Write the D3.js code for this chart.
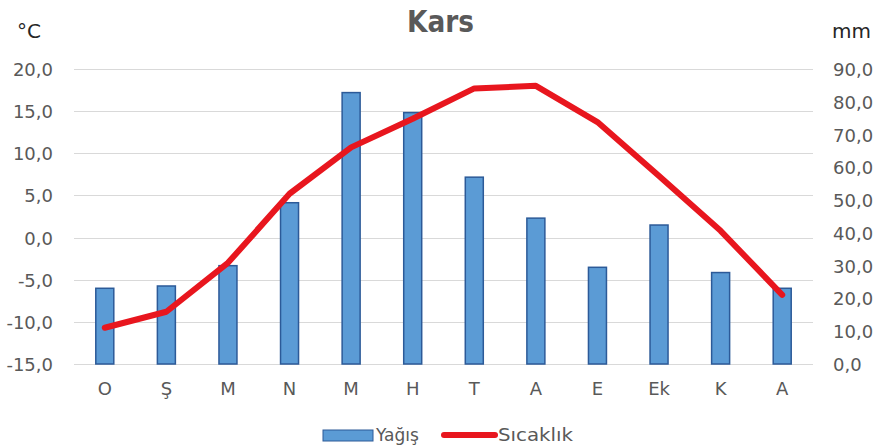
<!DOCTYPE html>
<html>
<head>
<meta charset="utf-8">
<script src="https://cdn.jsdelivr.net/npm/d3@7"></script>
<style>
  body { margin: 0; background: #fff; }
  text { font-family: "DejaVu Sans", Verdana, sans-serif; fill: #595959; }
</style>
</head>
<body>
<svg id="chart" width="882" height="446"></svg>
<script>
// months (Turkish initials)
var months = ["O", "Ş", "M", "N", "M", "H", "T", "A", "E", "Ek", "K", "A"];
// precipitation, mm (bars, right axis)
var yagis = [23.1, 23.8, 30.0, 49.2, 82.8, 76.7, 57.0, 44.5, 29.5, 42.4, 27.9, 23.1];
// temperature, °C (line, left axis)
var sicaklik = [-10.7, -8.8, -3.0, 5.2, 10.7, 14.1, 17.7, 18.0, 13.7, 7.3, 0.8, -6.8];
var leftTicks = [20, 15, 10, 5, 0, -5, -10, -15];
var rightTicks = [90, 80, 70, 60, 50, 40, 30, 20, 10, 0];

var svg = d3.select("#chart");
// plot area (note: "top" is a reserved window prop, so use plotX names)
var plotL = 74, plotR = 813, plotT = 69, plotB = 364;
// turkish style: comma decimal, plain hyphen for minus
var fmt = function (d) { return d3.format(".1f")(d).replace(".", ",").replace("\u2212", "-"); };

var x = d3.scaleBand().domain(d3.range(months.length)).range([plotL, plotR]);
var yT = d3.scaleLinear().domain([-15, 20]).range([plotB, plotT]);
var yP = d3.scaleLinear().domain([0, 90]).range([plotB, plotT]);

// gridlines from the left axis
svg.append("g").selectAll("line")
    .data(leftTicks)
    .enter().append("line")
    .attr("x1", plotL).attr("x2", plotR)
    .attr("y1", function (d) { return Math.round(yT(d)) + 0.5; })
    .attr("y2", function (d) { return Math.round(yT(d)) + 0.5; })
    .attr("stroke", "#d9d9d9").attr("stroke-width", 1);

// left axis labels
var axL = svg.append("g").attr("transform", "translate(" + (plotL - 21) + ",0)")
    .call(d3.axisLeft(yT).tickValues(leftTicks).tickFormat(fmt).tickSize(0).tickPadding(0));
axL.select(".domain").remove();
axL.selectAll("text").attr("font-size", 18).attr("dy", "0.36em").attr("font-family", null);

// right axis labels
var axR = svg.append("g").attr("transform", "translate(" + (plotR + 20) + ",0)")
    .call(d3.axisRight(yP).tickValues(rightTicks).tickFormat(fmt).tickSize(0).tickPadding(0));
axR.select(".domain").remove();
axR.selectAll("text").attr("font-size", 18).attr("dy", "0.36em").attr("font-family", null);

// bottom category labels
var axB = svg.append("g").attr("transform", "translate(0," + plotB + ")")
    .call(d3.axisBottom(x).tickFormat(function (i) { return months[i]; }).tickSize(0).tickPadding(18));
axB.select(".domain").remove();
axB.selectAll("text").attr("font-size", 18).attr("font-family", null);

// bars
var bw = 18;
svg.append("g").selectAll("rect")
    .data(yagis)
    .enter().append("rect")
    .attr("x", function (d, i) { return x(i) + x.bandwidth() / 2 - bw / 2; })
    .attr("y", function (d) { return yP(d); })
    .attr("width", bw)
    .attr("height", function (d) { return plotB - yP(d); })
    .attr("fill", "#5b9bd5")
    .attr("stroke", "#2c5a98")
    .attr("stroke-width", 1.5);

// temperature line
var line = d3.line()
    .x(function (d, i) { return x(i) + x.bandwidth() / 2; })
    .y(function (d) { return yT(d); });
svg.append("path")
    .datum(sicaklik)
    .attr("d", line)
    .attr("fill", "none")
    .attr("stroke", "#e8161e")
    .attr("stroke-width", 6)
    .attr("stroke-linejoin", "round")
    .attr("stroke-linecap", "round");

// titles
svg.append("text").attr("x", 407).attr("y", 32)
    .attr("font-size", 31).attr("font-weight", "bold")
    .attr("textLength", 67).attr("lengthAdjust", "spacingAndGlyphs").text("Kars");
svg.append("text").attr("x", 17).attr("y", 38).attr("font-size", 20)
    .style("fill", "#262626").text("°C");
svg.append("text").attr("x", 832).attr("y", 38).attr("font-size", 20)
    .style("fill", "#262626").text("mm");

// legend
var lg = svg.append("g");
lg.append("rect").attr("x", 323).attr("y", 430).attr("width", 50).attr("height", 11)
    .attr("fill", "#5b9bd5").attr("stroke", "#2c5a98").attr("stroke-width", 1);
lg.append("text").attr("x", 376).attr("y", 441).attr("font-size", 17).text("Yağış");
lg.append("line").attr("x1", 444).attr("x2", 495).attr("y1", 435).attr("y2", 435)
    .attr("stroke", "#e8161e").attr("stroke-width", 6).attr("stroke-linecap", "round");
lg.append("text").attr("x", 498).attr("y", 441).attr("font-size", 17)
    .attr("textLength", 75).attr("lengthAdjust", "spacingAndGlyphs").text("Sıcaklık");
</script>
</body>
</html>
